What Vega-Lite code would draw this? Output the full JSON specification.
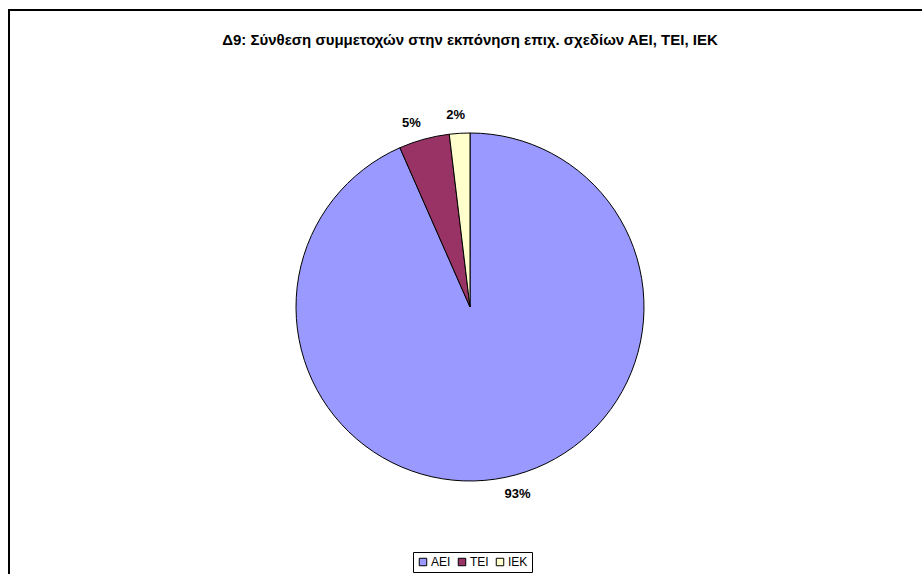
{
  "$schema": "https://vega.github.io/schema/vega-lite/v6.json",
  "width": 922,
  "height": 594,
  "autosize": {"type": "none"},
  "padding": {"left": 9, "top": 10, "right": 0, "bottom": 0},
  "background": "white",
  "view": {"stroke": "black", "strokeWidth": 2},
  "title": {
    "text": "Δ9: Σύνθεση συμμετοχών στην εκπόνηση επιχ. σχεδίων ΑΕΙ, ΤΕΙ, ΙΕΚ",
    "font": "Liberation Sans",
    "fontSize": 15,
    "fontWeight": "bold",
    "color": "black",
    "anchor": "middle",
    "offset": -38
  },
  "data": {
    "values": [
      {"category": "ΑΕΙ", "share": 93.4, "label": "93%", "rank": 1},
      {"category": "ΤΕΙ", "share": 4.7, "label": "5%", "rank": 2},
      {"category": "ΙΕΚ", "share": 1.9, "label": "2%", "rank": 3}
    ]
  },
  "encoding": {
    "theta": {"field": "share", "type": "quantitative", "stack": true},
    "order": {"field": "rank", "type": "quantitative"},
    "color": {
      "field": "category",
      "type": "nominal",
      "scale": {"domain": ["ΑΕΙ", "ΤΕΙ", "ΙΕΚ"], "range": ["#9999FF", "#993366", "#FFFFCC"]},
      "legend": {
        "title": null,
        "orient": "none",
        "legendX": 404,
        "legendY": 542,
        "direction": "horizontal",
        "symbolType": "square",
        "symbolSize": 56,
        "symbolStrokeColor": "black",
        "symbolStrokeWidth": 1,
        "symbolOpacity": 1,
        "labelFont": "Liberation Sans",
        "labelFontSize": 12,
        "labelColor": "black",
        "labelOffset": 2,
        "columnPadding": 5,
        "strokeColor": "black",
        "padding": 4
      }
    }
  },
  "layer": [
    {"mark": {"type": "arc", "outerRadius": 174, "stroke": "black", "strokeWidth": 1}},
    {
      "mark": {"type": "text", "radius": 192, "dx": 8, "dy": -1, "font": "Liberation Sans", "fontSize": 13, "fontWeight": "bold"},
      "encoding": {
        "text": {"condition": {"test": "datum.category === 'ΑΕΙ'", "field": "label", "type": "nominal"}, "value": ""},
        "color": {"value": "black"}
      }
    },
    {
      "mark": {"type": "text", "radius": 192, "dx": -8, "dy": 1, "font": "Liberation Sans", "fontSize": 13, "fontWeight": "bold"},
      "encoding": {
        "text": {"condition": {"test": "datum.category === 'ΤΕΙ'", "field": "label", "type": "nominal"}, "value": ""},
        "color": {"value": "black"}
      }
    },
    {
      "mark": {"type": "text", "radius": 192, "dx": -3, "dy": 0, "font": "Liberation Sans", "fontSize": 13, "fontWeight": "bold"},
      "encoding": {
        "text": {"condition": {"test": "datum.category === 'ΙΕΚ'", "field": "label", "type": "nominal"}, "value": ""},
        "color": {"value": "black"}
      }
    }
  ]
}
